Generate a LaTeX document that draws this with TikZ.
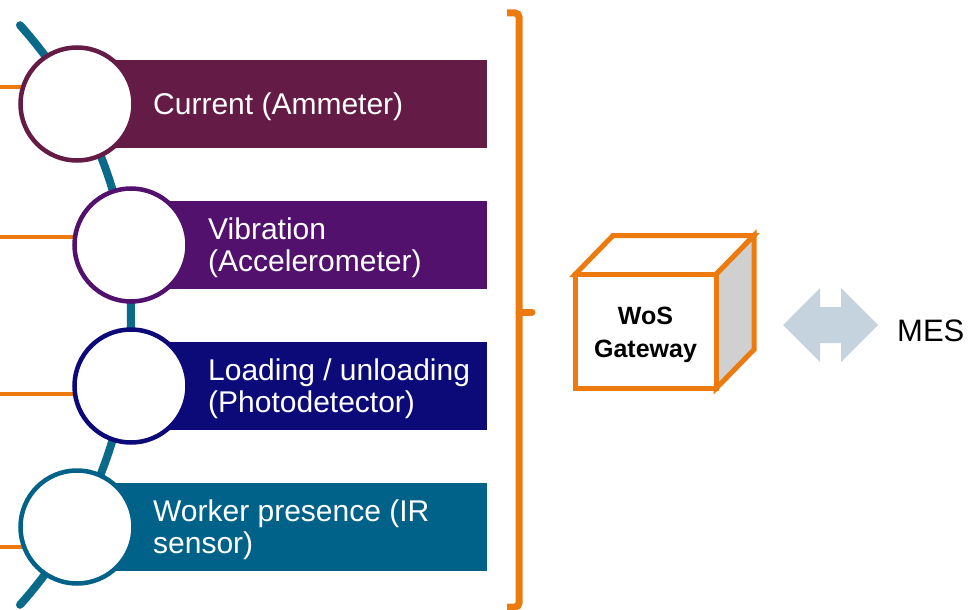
\documentclass[tikz,border=0pt]{standalone}
\usepackage{fontspec}
\setmainfont{Liberation Sans}
\definecolor{wine}{HTML}{641B46}
\definecolor{plum}{HTML}{53116E}
\definecolor{navy}{HTML}{0B0A78}
\definecolor{petrol}{HTML}{006288}
\definecolor{spinecol}{HTML}{0A6A8A}
\definecolor{amber}{HTML}{EC7A0E}
\definecolor{sidegray}{HTML}{D0D0D0}
\definecolor{linkblue}{HTML}{C5D3DE}
\pgfdeclarelayer{bg}
\pgfsetlayers{bg,main}
\begin{document}
\begin{tikzpicture}[x=1pt,y=-1pt,
  spine/.style={draw=spinecol,line width=8pt,line cap=round},
  feed/.style={draw=amber,line width=3.3pt},
  sensor/.style={circle,fill=white,line width=4.5pt,minimum size=113pt,inner sep=0pt,outer sep=0pt},
  band/.style={rectangle,anchor=west,minimum height=88pt,inner sep=0pt,outer sep=0pt},
  caption/.style={anchor=west,inner sep=0pt,text=white,align=left,
    font=\fontsize{30}{31.5}\selectfont},
  gateway/.style={rectangle,draw=amber,fill=white,line width=5pt,minimum width=141pt,
    minimum height=114pt,inner sep=0pt,outer sep=0pt},
  cubeface/.style={draw=amber,line width=5pt,line join=miter,miter limit=4},
  brace/.style={draw=amber,line width=7pt}
]
\useasboundingbox (0,0) rectangle (969,610);

% sensor circles
\node[sensor,draw=wine]   (c1) at (77,104)  {};
\node[sensor,draw=plum]   (c2) at (131,245) {};
\node[sensor,draw=navy]   (c3) at (131,386) {};
\node[sensor,draw=petrol] (c4) at (77,527)  {};

\begin{pgfonlayer}{bg}
  % curved backbone through the sensors
  \draw[spine] plot[domain=-41.9:41.9,samples=90]
    ({-303+434*cos(\x)},{315+434*sin(\x)});
  % incoming signal lines
  \coordinate (s1) at (0,87);
  \coordinate (s2) at (0,237);
  \coordinate (s3) at (0,394);
  \coordinate (s4) at (0,547);
  \draw[feed] (s1) -- (s1 -| c1);
  \draw[feed] (s2) -- (s2 -| c2);
  \draw[feed] (s3) -- (s3 -| c3);
  \draw[feed] (s4) -- (s4 -| c4);
  % coloured bands
  \node[band,fill=wine,minimum width=410pt]   (r1) at (c1) {};
  \node[band,fill=plum,minimum width=356pt]   (r2) at (c2) {};
  \node[band,fill=navy,minimum width=356pt]   (r3) at (c3) {};
  \node[band,fill=petrol,minimum width=410pt] (r4) at (c4) {};
\end{pgfonlayer}

% band labels
\node[caption] (t1) at ([xshift=76pt,yshift=-2.5pt]c1) {Current (Ammeter)};
\node[caption] (t2) at ([xshift=77pt,yshift=-2.5pt]c2) {Vibration\\(Accelerometer)};
\node[caption] (t3) at ([xshift=77pt,yshift=-2.5pt]c3) {Loading / unloading\\(Photodetector)};
\node[caption] (t4) at ([xshift=76pt,yshift=-2.5pt]c4) {Worker presence (IR\\sensor)};

% grouping bracket
\coordinate (bt) at (507,13);
\coordinate (bb) at (507,607);
\coordinate (bm) at (519,312);
\draw[brace,rounded corners=4pt] (bt) -- (519,13) -- (519,607) -- (bb);
\draw[brace,line cap=round] (bm) -- (532,312);

% gateway cube: front face, lid and side
\node[gateway] (gw) at (645.5,331.5) {};
\filldraw[cubeface,fill=white] (gw.north west) -- ++(38,-39) -- ++(141,0)
  -- (gw.north east) -- cycle;
\filldraw[cubeface,fill=sidegray] (gw.north east) -- ++(38,-39) -- ++(0,114)
  -- (gw.south east) -- cycle;
\node[gateway] (gwf) at (gw) {};
\node[align=center,inner sep=0pt,font=\fontsize{25}{33.5}\selectfont\bfseries]
  (gwt) at ([yshift=-3.5pt]gw) {WoS\\Gateway};

% bidirectional link to MES
\coordinate (ac) at (830.5,325);
\fill[linkblue] (ac) ++(-47.5,0) -- ++(37,-37) -- ++(0,19) -- ++(21,0) -- ++(0,-19)
  -- ++(37,37) -- ++(-37,37) -- ++(0,-19) -- ++(-21,0) -- ++(0,19) -- cycle;
\node[anchor=west,inner sep=0pt,font=\fontsize{31}{33}\selectfont] (mes) at (897,331) {MES};
\end{tikzpicture}
\end{document}
